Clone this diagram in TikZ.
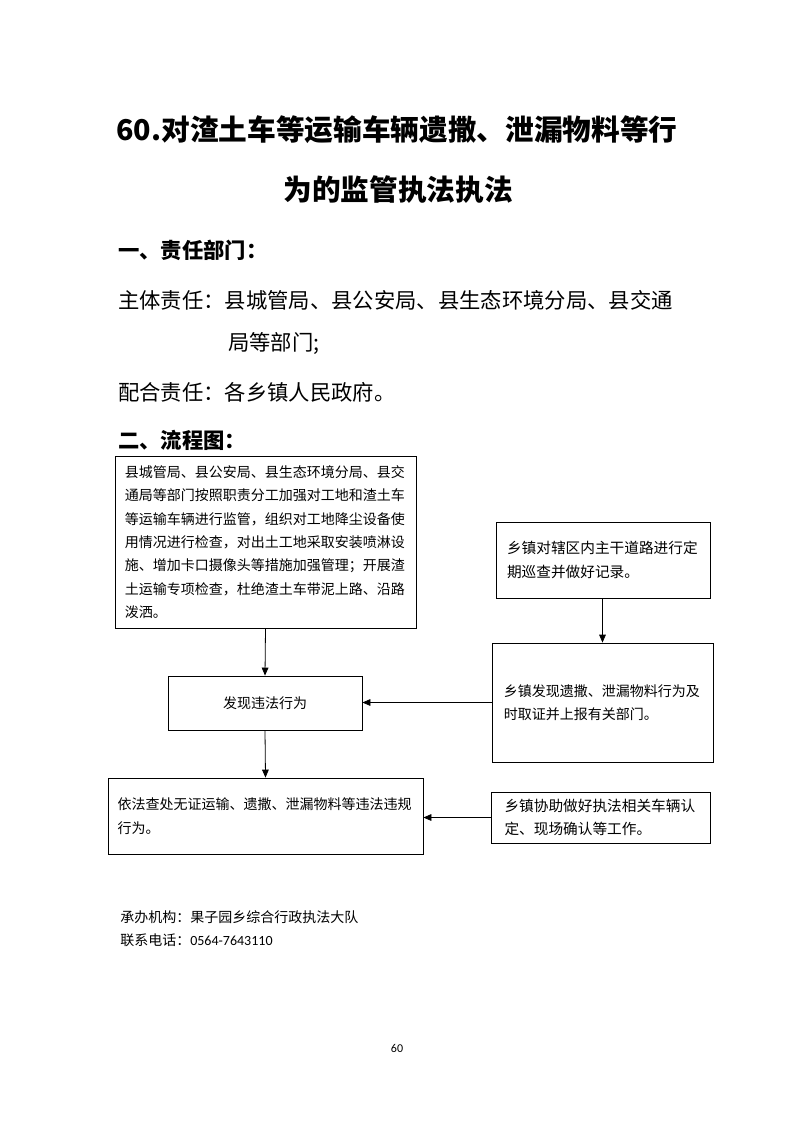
\documentclass[tikz,border=0pt]{standalone}
\usepackage{fontspec}
\setmainfont{Noto Sans CJK SC}
\newfontfamily\cali{Carlito}
\usetikzlibrary{arrows.meta}
\begin{document}
\begin{tikzpicture}[x=0.75pt,y=-0.75pt,
  box/.style={draw,line width=0.6pt,inner sep=0pt,align=left},
  txt/.style={inner sep=0pt,anchor=west},
  arr/.style={draw,line width=0.6pt,-{Triangle[width=5pt,length=6pt]}},
  bodyf/.style={font=\fontsize{10.5}{17.5}\selectfont},
  bodyg/.style={font=\fontsize{11}{17.5}\selectfont}]
\useasboundingbox (0,0) rectangle (793,1122);
% titles
\node[inner sep=0pt,font=\fontsize{21.5}{26}\bfseries\selectfont] (t1) at (397,130) {60.对渣土车等运输车辆遗撒、泄漏物料等行};
\node[inner sep=0pt,font=\fontsize{21.5}{26}\bfseries\selectfont] (t2) at (398,190) {为的监管执法执法};
% section text
\node[txt,font=\fontsize{16}{20}\bfseries\selectfont] (h1) at (118,250) {一、责任部门：};
\node[txt,font=\fontsize{16}{20}\selectfont] (l1) at (118,300) {主体责任：县城管局、县公安局、县生态环境分局、县交通};
\node[txt,font=\fontsize{16}{20}\selectfont] (l2) at (228,344) {局等部门;};
\node[txt,font=\fontsize{16}{20}\selectfont] (l3) at (118,392) {配合责任：各乡镇人民政府。};
\node[txt,font=\fontsize{16}{20}\bfseries\selectfont] (h2) at (118,440) {二、流程图：};
% boxes
\node[box,bodyf,text width=211pt,minimum width=225.75pt,minimum height=129pt] (b1) at (265.5,542) {县城管局、县公安局、县生态环境分局、县交\\通局等部门按照职责分工加强对工地和渣土车\\等运输车辆进行监管，组织对工地降尘设备使\\用情况进行检查，对出土工地采取安装喷淋设\\施、增加卡口摄像头等措施加强管理；开展渣\\土运输专项检查，杜绝渣土车带泥上路、沿路\\泼洒。};
\node[box,bodyg,text width=144pt,minimum width=160.5pt,minimum height=57pt] (b2) at (603,560) {乡镇对辖区内主干道路进行定\\期巡查并做好记录。};
\node[box,bodyf,text width=148pt,minimum width=165.75pt,minimum height=89.25pt] (b3) at (602.5,702.5) {乡镇发现遗撒、泄漏物料行为及\\时取证并上报有关部门。};
\node[box,bodyf,align=center,minimum width=145.5pt,minimum height=40.5pt] (b4) at (265,703) {发现违法行为};
\node[box,bodyf,text width=222pt,minimum width=236.25pt,minimum height=57pt] (b5) at (265.5,816) {依法查处无证运输、遗撒、泄漏物料等违法违规\\行为。};
\node[box,bodyg,text width=144pt,minimum width=164.25pt,minimum height=38.25pt] (b6) at (600.5,817.5) {乡镇协助做好执法相关车辆认\\定、现场确认等工作。};
% arrows
\draw[arr] (b1.south) -- (b4.north);
\draw[arr] (b4.south) -- (b5.north);
\draw[arr] (b2.south -| b3.north) -- (b3.north);
\draw[arr] (b3.west) -- (b3.west -| b4.east);
\draw[arr] (b6.west) -- (b6.west -| b5.east);
% footer
\node[txt,font=\fontsize{10.5}{13}\selectfont] (f1) at (120,917) {承办机构：果子园乡综合行政执法大队};
\node[txt,font=\fontsize{10.5}{13}\selectfont] (f2) at (120,940) {联系电话：{\cali 0564-7643110}};
\node[inner sep=0pt,font=\cali\fontsize{9}{11}\selectfont] (pg) at (397,1048) {60};
\end{tikzpicture}
\end{document}
